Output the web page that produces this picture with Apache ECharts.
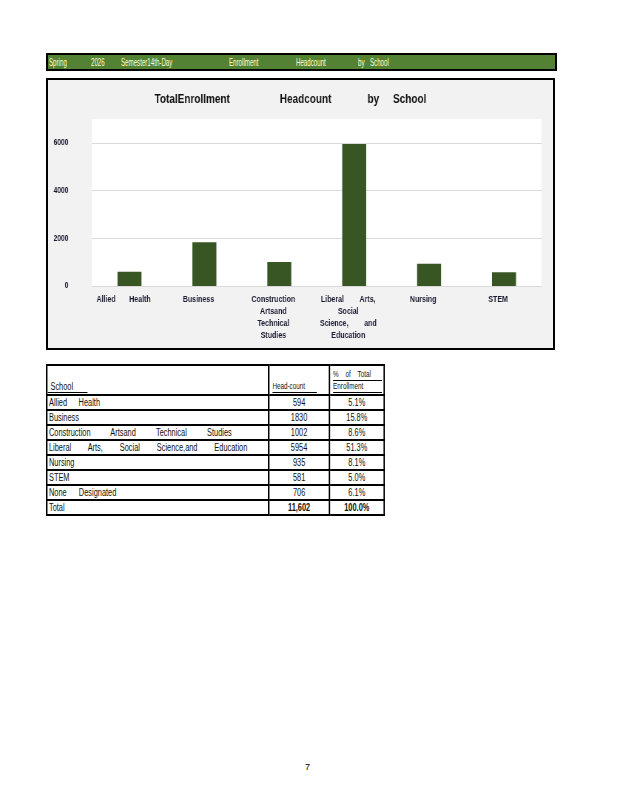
<!DOCTYPE html>
<html>
<head>
<meta charset="utf-8">
<script src="https://cdn.jsdelivr.net/npm/echarts@6/dist/echarts.min.js"></script>
<style>
    body { margin: 0; background: #fff; font-family: "Liberation Sans", Arial, sans-serif; }
    #page { position: relative; width: 618px; height: 800px; }
    /* 没有 Arial Narrow，用 scaleX 压窄文字 */
    .narrow { display: inline-block; transform: scaleX(0.56); transform-origin: 0 50%; white-space: pre; }
    #banner {
        position: absolute; left: 46px; top: 53px; width: 507px; height: 14px;
        background: #548235; border: 2px solid #000; color: #ffffcc; font-size: 11px; line-height: 14px;
    }
    #banner span { position: absolute; top: 0; }
    #chartBox {
        position: absolute; left: 46px; top: 78px; width: 505px; height: 268px;
        border: 2px solid #000; background: #f2f2f2; overflow: hidden;
    }
    #chart { width: 682px; height: 268px; transform: scaleX(0.74); transform-origin: 0 0; }
    #tblBox { position: absolute; left: 46px; top: 364px; transform: scaleX(0.74); transform-origin: 0 0; }
    #tbl { border-collapse: collapse; table-layout: fixed; width: 456px; font-size: 10px; color: #111; }
    #tbl td { border: 2px solid #000; padding: 0 0 0 2px; height: 13px; line-height: 13px; white-space: pre; overflow: hidden; }
    #tbl td.num { text-align: center; padding: 0; }
    #tbl tr.head td { height: 27px; vertical-align: bottom; font-size: 8.5px; padding-bottom: 1px; line-height: 11px; }
    #tbl .ul { display: inline-block; border-bottom: 1px solid #000; }
    #tbl .jst { display: inline-block; text-align: justify; text-align-last: justify; white-space: normal; }
    #tbl tr.total td.num { font-weight: bold; }
    #tbl tr:nth-child(2) .jst { width: 69px; }
    #tbl tr:nth-child(4) .jst { width: 247px; }
    #tbl tr:nth-child(5) .jst { width: 268px; }
    #tbl tr:nth-child(8) .jst { width: 91px; }
    #pageno { position: absolute; left: 305px; top: 762px; font-size: 9px; }
</style>
</head>
<body>
<div id="page">
    <div id="banner">
        <span style="left:1px" class="narrow">Spring</span>
        <span style="left:43px" class="narrow">2026</span>
        <span style="left:73px" class="narrow">Semester14th-Day</span>
        <span style="left:181px" class="narrow">Enrollment</span>
        <span style="left:248px" class="narrow">Headcount</span>
        <span style="left:310px" class="narrow">by</span>
        <span style="left:322px" class="narrow">School</span>
    </div>
    <div id="chartBox"><div id="chart"></div></div>
    <div id="tblBox"><table id="tbl"></table></div>
    <div id="pageno">7</div>
</div>
<script>
// 图表数据
const schools = ['Allied Health', 'Business', 'Construction Artsand Technical Studies',
    'Liberal Arts, Social Science, and Education', 'Nursing', 'STEM'];
const axisLabels = ['Allied       Health', 'Business', 'Construction\nArtsand\nTechnical\nStudies',
    'Liberal        Arts,\nSocial\nScience,        and\nEducation', 'Nursing', 'STEM'];
const headcounts = [594, 1830, 1002, 5954, 935, 581];
const chartTitle = 'TotalEnrollment                  Headcount             by     School';

// 表格数据
const tableSchools = ['Allied Health', 'Business', 'Construction Artsand Technical Studies',
    'Liberal Arts, Social Science,and Education', 'Nursing', 'STEM', 'None Designated'];
const tableCounts = ['594', '1830', '1002', '5954', '935', '581', '706'];
const tablePercents = ['5.1%', '15.8%', '8.6%', '51.3%', '8.1%', '5.0%', '6.1%'];
const totalCount = '11,602';
const totalPercent = '100.0%';

const fontName = '"Liberation Sans", Arial, sans-serif';

function initChart() {
    const chart = echarts.init(document.getElementById('chart'));
    const option = {
        animation: false,
        title: {
            text: chartTitle,
            left: 139,
            top: 7,
            textStyle: { fontFamily: fontName, fontSize: 13.5, fontWeight: 'bold', color: '#111' }
        },
        grid: {
            left: 59.5, right: 15.2, top: 39, bottom: 62,
            show: true, backgroundColor: '#ffffff', borderWidth: 0
        },
        xAxis: {
            type: 'category',
            data: axisLabels,
            axisLine: { lineStyle: { color: '#d9d9d9', width: 1 } },
            axisTick: { show: false },
            axisLabel: {
                interval: 0, margin: 7, lineHeight: 12, padding: [0, 16, 0, 0],
                fontFamily: fontName, fontSize: 9.5, fontWeight: 'bold', color: '#1a1a33'
            }
        },
        yAxis: {
            type: 'value',
            min: 0, max: 7000, interval: 2000,
            axisLine: { show: false },
            axisTick: { show: false },
            splitLine: { showMaxLine: false, lineStyle: { color: '#d9d9d9', width: 1 } },
            axisLabel: {
                showMaxLabel: false, margin: 32,
                formatter: v => String(v),
                fontFamily: fontName, fontSize: 9, fontWeight: 'bold', color: '#1a1a33'
            }
        },
        series: [{
            type: 'bar',
            name: 'Headcount',
            data: headcounts,
            barWidth: 32.4,
            itemStyle: { color: '#375623' }
        }]
    };
    chart.setOption(option);
}

function buildTable() {
    const $t = document.getElementById('tbl');
    let html = '<colgroup><col style="width:300px"><col style="width:82px"><col style="width:74px"></colgroup>' +
        '<tr class="head">' +
        '<td style="padding-left:0"><span class="ul" style="width:50px;font-size:10px;padding-left:4px">School</span></td>' +
        '<td style="padding-left:4px"><span class="ul" style="width:60px">Head-count</span></td>' +
        '<td style="padding-left:4px"><span class="ul" style="width:66px"><span class="jst" style="width:51px">% of Total</span></span><br>' +
        '<span class="ul" style="width:66px">Enrollment</span></td></tr>';
    tableSchools.forEach((name, i) => {
        html += '<tr><td><span class="jst">' + name + '</span></td><td class="num">' + tableCounts[i] +
            '</td><td class="num">' + tablePercents[i] + '</td></tr>';
    });
    html += '<tr class="total"><td>Total</td><td class="num">' + totalCount +
        '</td><td class="num">' + totalPercent + '</td></tr>';
    $t.innerHTML = html;
}

initChart();
buildTable();
</script>
</body>
</html>
